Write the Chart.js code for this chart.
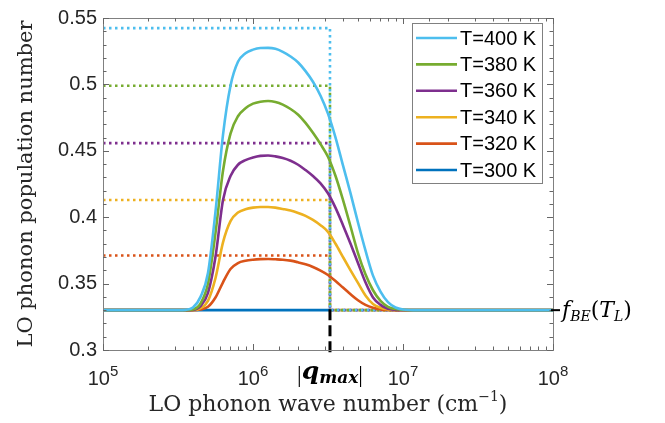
<!DOCTYPE html>
<html lang="en">
<head>
<meta charset="UTF-8">
<title>LO phonon population number</title>
<script src="https://cdn.jsdelivr.net/npm/chart.js"></script>
<style>
  html, body { margin: 0; padding: 0; background: #fff; }
  .chart-container { width: 665px; height: 423px; }
</style>
</head>
<body>
<div class="chart-container">
  <canvas id="phononChart" width="665" height="423"></canvas>
</div>
<script>
const waveNumbers = [1e5,
  3.16e5, 3.55e5, 3.98e5, 4.47e5, 5.01e5, 5.62e5, 6.31e5, 7.08e5, 7.94e5, 8.91e5,
  1e6, 1.12e6, 1.26e6, 1.41e6, 1.58e6, 1.78e6, 2.0e6, 2.24e6, 2.51e6, 2.82e6,
  3.16e6, 3.55e6, 3.98e6, 4.47e6, 5.01e6, 5.62e6, 6.31e6, 7.08e6, 7.94e6, 8.91e6,
  1e7, 1.26e7, 1e8];

const labels = ['T=400 K', 'T=380 K', 'T=360 K', 'T=340 K', 'T=320 K', 'T=300 K'];
const colors = ['#4DBEEE', '#77AC30', '#7E2F8E', '#EDB120', '#D95319', '#0072BD'];

const n400 = [0.33,
  0.33, 0.3302, 0.332, 0.340, 0.358, 0.404, 0.462, 0.499, 0.517, 0.5235,
  0.5262, 0.5274, 0.5275, 0.5268, 0.5245, 0.521, 0.5165, 0.510, 0.502, 0.4915,
  0.478, 0.460, 0.439, 0.418, 0.396, 0.375, 0.356, 0.344, 0.336, 0.332,
  0.3305, 0.33, 0.33];
const n380 = [0.33,
  0.33, 0.33, 0.3305, 0.335, 0.350, 0.388, 0.435, 0.463, 0.476, 0.482,
  0.4855, 0.487, 0.4875, 0.4868, 0.4848, 0.4815, 0.4772, 0.471, 0.4635, 0.455,
  0.4455, 0.431, 0.413, 0.393, 0.373, 0.357, 0.345, 0.337, 0.3325, 0.3308,
  0.3302, 0.33, 0.33];
const n360 = [0.33,
  0.33, 0.33, 0.3302, 0.333, 0.343, 0.370, 0.413, 0.431, 0.4395, 0.443,
  0.445, 0.4462, 0.4465, 0.4458, 0.4445, 0.4425, 0.4395, 0.4355, 0.431, 0.4255,
  0.418, 0.407, 0.394, 0.380, 0.3655, 0.351, 0.3396, 0.334, 0.331, 0.3302,
  0.33, 0.33, 0.33];
const n340 = [0.33,
  0.33, 0.33, 0.33, 0.3315, 0.337, 0.354, 0.381, 0.397, 0.4035, 0.406,
  0.4072, 0.4077, 0.4077, 0.4072, 0.4062, 0.405, 0.4032, 0.401, 0.398, 0.394,
  0.389, 0.380, 0.370, 0.360, 0.3505, 0.341, 0.3346, 0.3318, 0.3305, 0.3301,
  0.33, 0.33, 0.33];
const n320 = [0.33,
  0.33, 0.33, 0.33, 0.3305, 0.3325, 0.3395, 0.351, 0.361, 0.3655, 0.3672,
  0.368, 0.3684, 0.3685, 0.3683, 0.368, 0.3673, 0.366, 0.3645, 0.3625, 0.3598,
  0.3565, 0.352, 0.347, 0.342, 0.3375, 0.334, 0.3318, 0.3306, 0.3301, 0.33,
  0.33, 0.33, 0.33];

const qMax = 3.26e6;
const fBE = 0.33;
const stepEnd = 9.5e6;
const n300x = [1e5, qMax];
const n300 = [0.33, 0.33];
// dotted step levels below |q_max| for 400..320 K
const stepLevels = [0.5424, 0.499, 0.4558, 0.413, 0.3712];

const yTicks = [0.3, 0.35, 0.4, 0.45, 0.5, 0.55];
const xTickExps = [5, 6, 7, 8];

const curves = [n400, n380, n360, n340, n320];

const datasets = [];
curves.forEach((vals, i) => {
  datasets.push({
    label: labels[i],
    data: vals.map((v, j) => ({ x: waveNumbers[j], y: v })),
    borderColor: colors[i],
    borderWidth: 2.6,
    pointRadius: 0,
    cubicInterpolationMode: 'monotone'
  });
});
datasets.push({
  label: labels[5],
  data: n300.map((v, j) => ({ x: n300x[j], y: v })),
  borderColor: colors[5],
  borderWidth: 2.6,
  pointRadius: 0
});
stepLevels.forEach((lvl, i) => {
  datasets.push({
    label: 'step ' + labels[i],
    isStep: true,
    data: [{ x: 1e5, y: lvl }, { x: qMax, y: lvl }, { x: qMax, y: fBE }, { x: stepEnd, y: fBE }],
    borderColor: colors[i],
    borderWidth: 2.6,
    borderDash: [2.5, 3.5],
    pointRadius: 0,
    tension: 0
  });
});

function drawScript(ctx, parts, x, y, align) {
  // parts: [text, font, dy]
  let w = 0;
  parts.forEach(p => { ctx.font = p[1]; w += ctx.measureText(p[0]).width; });
  let cx = align === 'center' ? x - w / 2 : x;
  ctx.textAlign = 'left';
  ctx.textBaseline = 'alphabetic';
  parts.forEach(p => {
    ctx.font = p[1];
    ctx.fillText(p[0], cx, y + (p[2] || 0));
    cx += ctx.measureText(p[0]).width;
  });
}

const overlay = {
  id: 'overlay',
  afterDatasetsDraw(chart) {
    const { ctx, chartArea: a, scales: { x, y } } = chart;
    ctx.save();

    // qmax dashed marker
    const qx = x.getPixelForValue(qMax);
    ctx.strokeStyle = '#000';
    ctx.lineWidth = 3;
    ctx.setLineDash([11, 5]);
    ctx.beginPath();
    ctx.moveTo(qx, y.getPixelForValue(fBE) - 1);
    ctx.lineTo(qx, a.bottom + 7);
    ctx.stroke();
    ctx.setLineDash([]);

    // axes box
    ctx.strokeStyle = '#808080';
    ctx.lineWidth = 1;
    ctx.strokeRect(Math.round(a.left) + 0.5, Math.round(a.top) + 0.5,
      Math.round(a.right - a.left), Math.round(a.bottom - a.top));

    // x ticks (inward, bottom and top)
    ctx.strokeStyle = '#666';
    x.ticks.forEach(t => {
      const e = Math.log10(t.value);
      const major = Math.abs(e - Math.round(e)) < 1e-6;
      const px = Math.round(x.getPixelForValue(t.value)) + 0.5;
      const len = major ? 6 : 3.5;
      ctx.beginPath();
      ctx.moveTo(px, a.bottom); ctx.lineTo(px, a.bottom - len);
      ctx.moveTo(px, a.top); ctx.lineTo(px, a.top + len);
      ctx.stroke();
    });
    // y ticks, major and minor
    for (let v = 0.3; v <= 0.5501; v += 0.01) {
      const major = Math.abs(v * 20 - Math.round(v * 20)) < 1e-6;
      const py = Math.round(y.getPixelForValue(v)) + 0.5;
      const len = major ? 6 : 3.5;
      ctx.beginPath();
      ctx.moveTo(a.left, py); ctx.lineTo(a.left + len, py);
      ctx.moveTo(a.right, py); ctx.lineTo(a.right - len, py);
      ctx.stroke();
    }

    // x tick labels 10^n
    ctx.fillStyle = '#262626';
    xTickExps.forEach(e => {
      const px = x.getPixelForValue(Math.pow(10, e));
      drawScript(ctx, [['10', '20px "Liberation Sans"', 0], [String(e), '15px "Liberation Sans"', -9]],
        px, 385, 'center');
    });

    // |q_max| label
    ctx.fillStyle = '#000';
    drawScript(ctx, [
      ['|', '23px "Liberation Serif"', 0],
      ['q', 'bold italic 25px "DejaVu Serif"', -3],
      ['max', 'bold italic 17px "DejaVu Serif"', 1],
      ['|', '23px "Liberation Serif"', 0]
    ], qx, 382, 'center');

    // f_BE(T_L) with tick
    const fy = y.getPixelForValue(fBE);
    ctx.strokeStyle = '#000';
    ctx.lineWidth = 2;
    ctx.beginPath();
    ctx.moveTo(a.right - 2, fy); ctx.lineTo(a.right + 7, fy);
    ctx.stroke();
    drawScript(ctx, [
      ['f', 'italic 22px "DejaVu Serif"', 0],
      ['BE', 'italic 14px "DejaVu Serif"', 4],
      ['(', '22px "DejaVu Serif"', 0],
      ['T', 'italic 22px "DejaVu Serif"', 0],
      ['L', 'italic 14px "DejaVu Serif"', 4],
      [')', '22px "DejaVu Serif"', 0]
    ], a.right + 9, fy + 7, 'left');

    // x axis title
    ctx.fillStyle = '#262626';
    drawScript(ctx, [
      ['LO phonon wave number (cm', '22px "DejaVu Serif"', 0],
      ['\u22121', '14px "DejaVu Serif"', -10],
      [')', '22px "DejaVu Serif"', 0]
    ], (a.left + a.right) / 2, 411, 'center');

    // legend box
    const lx = 412, ly = 23, lw = 130, lh = 160;
    ctx.fillStyle = '#fff';
    ctx.fillRect(lx, ly, lw, lh);
    ctx.strokeStyle = '#808080';
    ctx.lineWidth = 1;
    ctx.strokeRect(lx + 0.5, ly + 0.5, lw, lh);
    ctx.font = '20px "Liberation Sans"';
    ctx.textBaseline = 'middle';
    ctx.textAlign = 'left';
    chart.data.datasets.filter(d => !d.isStep).forEach((d, i) => {
      const rowY = ly + 15 + i * 26.4;
      ctx.strokeStyle = d.borderColor;
      ctx.lineWidth = 2.6;
      ctx.beginPath();
      ctx.moveTo(lx + 4, rowY); ctx.lineTo(lx + 45, rowY);
      ctx.stroke();
      ctx.fillStyle = '#000';
      ctx.fillText(d.label, lx + 48, rowY + 1);
    });
    ctx.restore();
  }
};

const ctx = document.getElementById('phononChart').getContext('2d');
const phononChart = new Chart(ctx, {
  type: 'line',
  data: { datasets: datasets },
  options: {
    responsive: false,
    devicePixelRatio: 1,
    animation: false,
    layout: { padding: { top: 12, right: 112, left: 0, bottom: 0 } },
    plugins: { legend: { display: false }, tooltip: { enabled: false } },
    scales: {
      x: {
        type: 'logarithmic',
        min: 1e5,
        max: 1e8,
        grid: { display: false },
        border: { display: false },
        ticks: { display: false },
        afterFit: s => { s.height = 73; }
      },
      y: {
        type: 'linear',
        min: 0.3,
        max: 0.55,
        afterBuildTicks: s => { s.ticks = yTicks.map(v => ({ value: v })); },
        grid: { display: false, drawTicks: false },
        border: { display: false },
        ticks: {
          padding: 6,
          color: '#262626',
          font: { family: 'Liberation Sans', size: 20 },
          callback: v => String(Math.round(v * 100) / 100)
        },
        title: {
          display: true,
          text: 'LO phonon population number',
          color: '#262626',
          font: { family: 'DejaVu Serif', size: 21 },
          padding: { top: 14, bottom: 0 }
        },
        afterFit: s => { s.width = 103; }
      }
    }
  },
  plugins: [overlay]
});
</script>
</body>
</html>
